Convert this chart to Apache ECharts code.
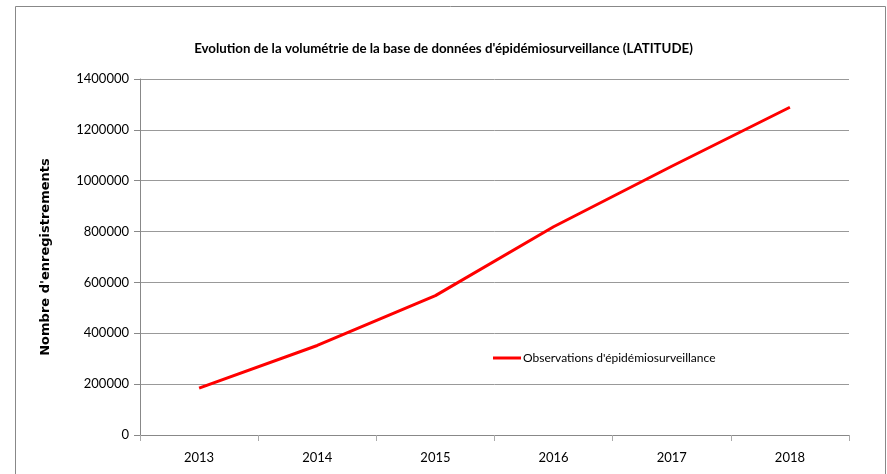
<!DOCTYPE html>
<html>
<head>
<meta charset="utf-8">
<script src="https://cdn.jsdelivr.net/npm/echarts@6/dist/echarts.min.js"></script>
<style>
  html, body { margin: 0; padding: 0; background: #fff; }
  #main-chart { width: 887px; height: 474px; }
</style>
</head>
<body>
<div id="main-chart"></div>
<script>
const years = ['2013', '2014', '2015', '2016', '2017', '2018'];
const observations = [184000, 352000, 548000, 819000, 1057000, 1289000];
const yTicks = [0, 200000, 400000, 600000, 800000, 1000000, 1200000, 1400000];

// Lato is the closest installed match to Calibri
const narrow = 'Lato, "Liberation Sans Narrow", sans-serif';
const chart = echarts.init(document.getElementById('main-chart'));

const option = {
    animation: false,
    backgroundColor: '#fff',
    title: {
        text: "Evolution de la volumétrie de la base de données d'épidémiosurveillance (LATITUDE)",
        left: 'center',
        top: 37,
        textStyle: { fontFamily: narrow, fontSize: 13.3, fontWeight: 'bold', color: '#000' }
    },
    graphic: [{
        type: 'rect',
        shape: { x: 15.5, y: 6.5, width: 870, height: 480 },
        style: { fill: 'none', stroke: '#888', lineWidth: 1 }
    }],
    legend: {
        left: 488,
        top: 347,
        itemWidth: 28,
        itemHeight: 3,
        itemGap: 2,
        icon: 'rect',
        textStyle: { fontFamily: narrow, fontSize: 12, color: '#000', padding: [0, 0, 0, -3] },
        data: ['Observations d\'épidémiosurveillance']
    },
    grid: { left: 140, right: 38, top: 79, bottom: 39 },
    xAxis: {
        type: 'category',
        data: years,
        boundaryGap: true,
        axisLine: { lineStyle: { color: '#888' } },
        axisTick: { show: true, length: 6, lineStyle: { color: '#aaa' } },
        axisLabel: { fontFamily: narrow, fontSize: 13, color: '#000', margin: 16 }
    },
    yAxis: {
        type: 'value',
        min: yTicks[0],
        max: yTicks[yTicks.length - 1],
        interval: 200000,
        name: "Nombre d'enregistrements",
        nameLocation: 'middle',
        nameGap: 88,
        nameTextStyle: { fontFamily: '"DejaVu Sans", sans-serif', fontSize: 13, fontWeight: 'bold', color: '#000' },
        axisLine: { show: true, lineStyle: { color: '#888' } },
        axisTick: { show: true, length: 6, lineStyle: { color: '#888' } },
        splitLine: { lineStyle: { color: '#999' } },
        axisLabel: { fontFamily: narrow, fontSize: 13, color: '#000', margin: 11, formatter: v => String(v) }
    },
    series: [{
        name: 'Observations d\'épidémiosurveillance',
        type: 'line',
        data: observations,
        symbol: 'none',
        lineStyle: { color: '#ff0000', width: 3 },
        itemStyle: { color: '#ff0000' }
    }]
};

chart.setOption(option);
</script>
</body>
</html>
